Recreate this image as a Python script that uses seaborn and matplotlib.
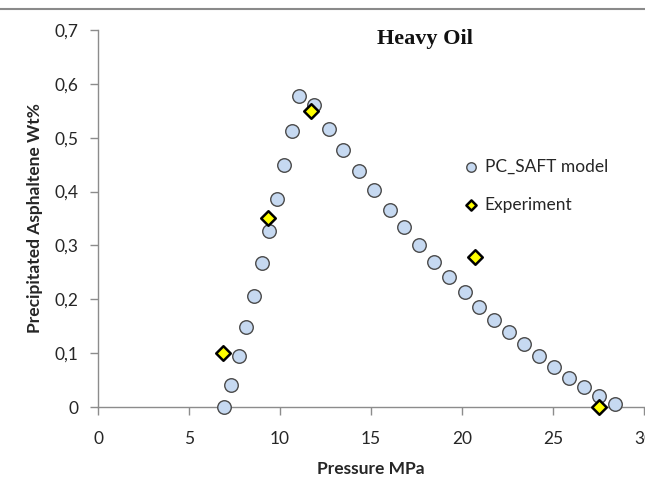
import matplotlib
matplotlib.use("Agg")
import matplotlib.pyplot as plt
from matplotlib.lines import Line2D
import seaborn as sns
import pandas as pd

# --- data ---
model_pressure = [6.94, 7.31, 7.75, 8.13, 8.57, 9.01, 9.38, 9.82, 10.20, 10.64,
                  11.06, 11.89, 12.69, 13.48, 14.34, 15.18, 16.04, 16.81, 17.66,
                  18.46, 19.30, 20.16, 20.95, 21.78, 22.60, 23.42, 24.25, 25.07,
                  25.90, 26.70, 27.53, 28.41]
model_asph = [0.000, 0.040, 0.095, 0.149, 0.207, 0.267, 0.327, 0.387, 0.449, 0.512,
              0.577, 0.560, 0.516, 0.477, 0.439, 0.402, 0.366, 0.334, 0.301,
              0.269, 0.242, 0.213, 0.186, 0.162, 0.139, 0.117, 0.094, 0.074,
              0.053, 0.037, 0.020, 0.005]
exp_pressure = [6.89, 9.32, 11.70, 20.71, 27.53]
exp_asph = [0.101, 0.351, 0.549, 0.279, 0.000]

x_ticks = [0, 5, 10, 15, 20, 25, 30]
y_ticks = [0, 0.1, 0.2, 0.3, 0.4, 0.5, 0.6, 0.7]
title = "Heavy Oil"
x_label = "Pressure MPa"
y_label = "Precipitated Asphaltene Wt%"
model_name = "PC_SAFT model"
exp_name = "Experiment"

df_model = pd.DataFrame({"P": model_pressure, "A": model_asph})
df_exp = pd.DataFrame({"P": exp_pressure, "A": exp_asph})

sns.set_style("white")
plt.rcParams["font.family"] = ["Lato", "DejaVu Sans"]

fig = plt.figure(figsize=(6.45, 4.83), dpi=100)
ax = fig.add_axes([98 / 645, 1 - 407 / 483, 546 / 645, 377 / 483])

sns.scatterplot(data=df_model, x="P", y="A", ax=ax, marker="o", s=95,
                color="#C6D9F1", edgecolor="#4a4a4a", linewidth=1.0,
                label=model_name, zorder=3, clip_on=False)
sns.scatterplot(data=df_exp, x="P", y="A", ax=ax, marker="D", s=55,
                color="#FFFF00", edgecolor="black", linewidth=1.8,
                label=exp_name, zorder=4, clip_on=False)

ax.set_xlim(0, 30)
ax.set_ylim(0, 0.7)
ax.set_xticks(x_ticks)
ax.set_yticks(y_ticks)
ax.set_xticklabels([f"{v:g}" for v in x_ticks])
ax.set_yticklabels([f"{v:g}".replace(".", ",") for v in y_ticks])

for side in ["top", "right"]:
    ax.spines[side].set_visible(False)
for side in ["left", "bottom"]:
    ax.spines[side].set_color("#8c8c8c")
    ax.spines[side].set_linewidth(1.0)
ax.tick_params(axis="both", which="major", direction="out", length=6,
               width=1.0, color="#8c8c8c", labelsize=12.5, labelcolor="#262626",
               bottom=True, left=True)
ax.tick_params(axis="x", pad=11)
ax.tick_params(axis="y", pad=8)

ax.set_xlabel(x_label, fontsize=12.5, fontweight="bold", color="#262626", labelpad=10)
ax.set_ylabel(y_label, fontsize=12.5, fontweight="bold", color="#262626", labelpad=8)

fig.text(425 / 645, 1 - 39 / 483, title, ha="center", va="center",
         fontsize=16, fontweight="bold", family=["Liberation Serif", "DejaVu Serif"],
         color="#111111")

leg = ax.legend(loc="upper left", bbox_to_anchor=(462 / 645, 1 - 159 / 483),
                bbox_transform=fig.transFigure, frameon=False, fontsize=12.5,
                markerscale=0.7, handletextpad=0.3, handlelength=1.0,
                labelspacing=1.25, borderaxespad=0, borderpad=0)
for t in leg.get_texts():
    t.set_color("#262626")

# thin grey border line at the top of the picture
fig.add_artist(Line2D([0, 1], [1 - 8.5 / 483, 1 - 8.5 / 483], transform=fig.transFigure,
                      color="#8a8a8a", linewidth=1.5))

fig.savefig("out.png", dpi=100)
